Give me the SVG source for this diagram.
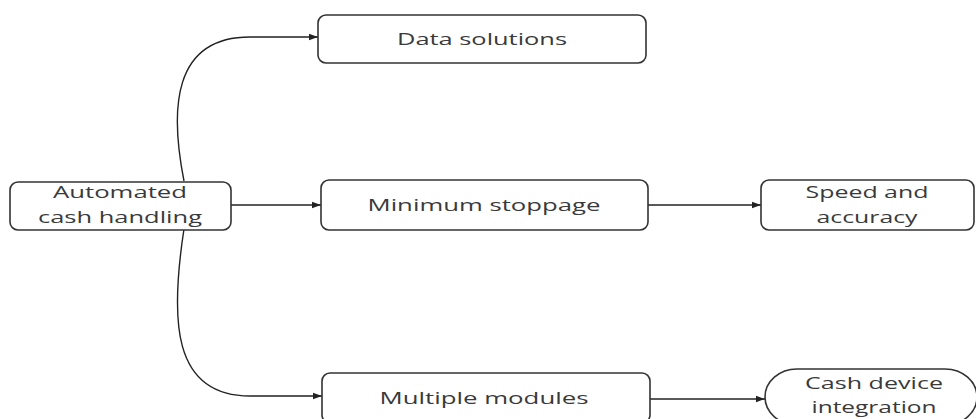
<svg xmlns="http://www.w3.org/2000/svg" width="976" height="419" viewBox="0 0 976 419">
<defs>
<marker id="arr" markerWidth="10" markerHeight="8" refX="9" refY="4" orient="auto" markerUnits="userSpaceOnUse">
<path d="M0,0.8 L9,4 L0,7.2 Z" fill="#222"/>
</marker>
<style>
.box{fill:#fff;stroke:#333;stroke-width:1.6}
.t{font-family:"Open Sans","DejaVu Sans",sans-serif;font-size:17px;fill:#3a3a3a;text-anchor:middle}
.c{fill:none;stroke:#222;stroke-width:1.4}
</style>
</defs>
<rect width="976" height="419" fill="#fff"/>
<g id="connectors">
<path class="c" d="M184,181 C170,110 172,37 250,37 L318,37" marker-end="url(#arr)"/>
<path class="c" d="M184,229 C170,320 172,396 250,396 L322,396" marker-end="url(#arr)"/>
<path class="c" d="M231,205 L321,205" marker-end="url(#arr)"/>
<path class="c" d="M648,205 L761,205" marker-end="url(#arr)"/>
<path class="c" d="M650,399 L765,399" marker-end="url(#arr)"/>
</g>
<g id="automated">
<rect class="box" x="10" y="182" width="221" height="48" rx="8"/>
<text class="t" x="120" y="198" textLength="134" lengthAdjust="spacingAndGlyphs">Automated</text>
<text class="t" x="120" y="223" textLength="164" lengthAdjust="spacingAndGlyphs">cash handling</text>
</g>
<g id="data">
<rect class="box" x="318" y="15" width="328" height="48" rx="8"/>
<text class="t" x="482" y="45" textLength="170" lengthAdjust="spacingAndGlyphs">Data solutions</text>
</g>
<g id="minimum">
<rect class="box" x="321" y="180" width="327" height="50" rx="8"/>
<text class="t" x="484" y="211" textLength="233" lengthAdjust="spacingAndGlyphs">Minimum stoppage</text>
</g>
<g id="speed">
<rect class="box" x="761" y="180" width="213" height="50" rx="8"/>
<text class="t" x="867" y="198" textLength="123" lengthAdjust="spacingAndGlyphs">Speed and</text>
<text class="t" x="867" y="223" textLength="101" lengthAdjust="spacingAndGlyphs">accuracy</text>
</g>
<g id="multiple">
<rect class="box" x="322" y="373" width="328" height="50" rx="8"/>
<text class="t" x="484" y="404" textLength="209" lengthAdjust="spacingAndGlyphs">Multiple modules</text>
</g>
<g id="cashdevice">
<rect class="box" x="765" y="369" width="212" height="56" rx="32" ry="28"/>
<text class="t" x="874" y="389" textLength="138" lengthAdjust="spacingAndGlyphs">Cash device</text>
<text class="t" x="874" y="413" textLength="125" lengthAdjust="spacingAndGlyphs">integration</text>
</g>
</svg>
